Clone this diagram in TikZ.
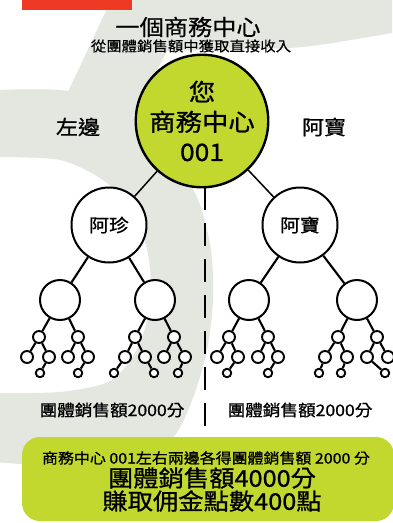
\documentclass[tikz,border=0pt]{standalone}
\usepackage{fontspec}
\setmainfont{Noto Sans CJK TC}[FakeStretch=1.1,FakeBold=0.9]
\newfontfamily\thinf{Noto Sans CJK TC}[FakeStretch=1.1,FakeBold=0.5]
\definecolor{bggrey}{HTML}{E4E6E0}
\definecolor{lime}{HTML}{C3D82E}
\definecolor{redbar}{HTML}{EE3A24}
\begin{document}
\begin{tikzpicture}[x=1pt,y=-1pt,line join=round,
  bignode/.style={circle,draw,line width=2.4pt,fill=lime,minimum size=113pt,inner sep=0pt,align=center,font=\fontsize{24}{30}\selectfont},
  lvone/.style={circle,draw,line width=2pt,fill=white,minimum size=75pt,inner sep=0pt,font=\fontsize{18}{20}\selectfont},
  lvtwo/.style={circle,draw,line width=2pt,fill=white,minimum size=40pt,inner sep=0pt},
  lvthree/.style={circle,draw,line width=1.9pt,fill=white,minimum size=12pt,inner sep=0pt},
  lvfive/.style={circle,draw,line width=1.9pt,fill=white,minimum size=8.5pt,inner sep=0pt},
  treeline/.style={line width=2.1pt},
  thinline/.style={line width=1.5pt},
  dashpat/.style={line width=2pt,dash pattern=on 23pt off 13pt},
  greenbox/.style={rectangle,rounded corners=18pt,fill=lime,minimum width=372pt,minimum height=84pt,inner sep=0pt},
  txt/.style={inner sep=0pt}]
\useasboundingbox (0,0) rectangle (392,523);
% background
\begin{scope}
\clip (0,0) rectangle (392,523);
\fill[white] (0,0) rectangle (392,523);
\fill[bggrey] (112,-2) -- (392,-2) -- (392,33) .. controls (350,40) and (320,46) .. (290,48) -- (167,51) -- (132,118) -- (68,92) -- cycle;
\fill[bggrey,even odd rule]
  plot[smooth] coordinates {(-5,90) (60,90) (110,102) (150,130) (180,165) (200,205) (211,250) (213,300) (207,350) (194,395) (175,435) (140,458) (80,467) (-5,462)} -- cycle
  plot[smooth] coordinates {(-5,157) (60,160) (103,180) (130,208) (146,245) (151,285) (146,325) (132,358) (108,382) (60,392) (-5,393)} -- cycle;
\fill[redbar] (22,0) rectangle (132,10);
\end{scope}
% titles
\node[txt,font=\thinf\fontsize{22}{24}\selectfont] (title) at (188,27) {一個商務中心};
\node[txt,font=\thinf\fontsize{14}{16}\selectfont] (sub) at (191,46) {從團體銷售額中獲取直接收入};
\node[txt,font=\fontsize{20}{24}\selectfont] (leftlab) at (78,127) {左邊};
\node[txt,font=\fontsize{20}{24}\selectfont] (rightlab) at (324,127) {阿寶};
% dashed divider
\coordinate (d1) at (205,187);
\coordinate (d2) at (205,433);
\draw[dashpat] (d1) -- (d2);
% main nodes
\node[bignode] (M) at (202,121) {您\\商務中心\\001};
\node[lvone] (L) at (109,225) {阿珍};
\node[lvone] (R) at (300,225) {阿寶};
\draw[thinline] (M) -- (L);
\draw[thinline] (M) -- (R);
% level 2
\foreach \n/\x in {1/60,2/155,3/249,4/357}
  \node[lvtwo] (m\n) at (\x,300) {};
\draw[treeline] (L) -- (m1) (L) -- (m2) (R) -- (m3) (R) -- (m4);
% level 3
\foreach \n/\x/\p in {1/39/1,2/78/1,3/135/2,4/174/2,5/229/3,6/268/3,7/338/4,8/377/4}{
  \node[lvthree] (s\n) at (\x,337) {};
  \draw[treeline] (m\p) -- (s\n);
}
% level 4
\foreach \n/\x/\p in {1/27/1,2/49/1,3/68/2,4/88/2,5/125/3,6/145/3,7/164/4,8/185/4,9/217/5,10/238/5,11/258/6,12/278/6,13/325/7,14/347/7,15/367/8,16/388/8}{
  \node[lvthree] (t\n) at (\x,357) {};
  \draw[treeline] (s\p) -- (t\n);
}
% level 5
\foreach \n/\x/\p in {1/40/2,2/78/4,3/114/5,4/154/6,5/178/8,6/227/10,7/268/12,8/319/13,9/341/14,10/385/15}{
  \node[lvfive] (u\n) at (\x,373) {};
  \draw[treeline] (t\p) -- (u\n);
}
% bottom labels
\node[txt,font=\fontsize{16}{18}\selectfont] (lsum) at (112,410) {團體銷售額2000分};
\node[txt,font=\fontsize{16}{18}\selectfont] (rsum) at (300,410) {團體銷售額2000分};
% summary box
\node[greenbox] (box) at (208,479) {};
\node[txt,font=\fontsize{14.5}{16}\selectfont] (s1t) at (206,458) {商務中心 001左右兩邊各得團體銷售額 2000 分};
\node[txt,font=\fontsize{23}{25}\selectfont] (s2t) at (212,478) {團體銷售額4000分};
\node[txt,font=\fontsize{23}{25}\selectfont] (s3t) at (212,501) {賺取佣金點數400點};
\end{tikzpicture}
\end{document}
